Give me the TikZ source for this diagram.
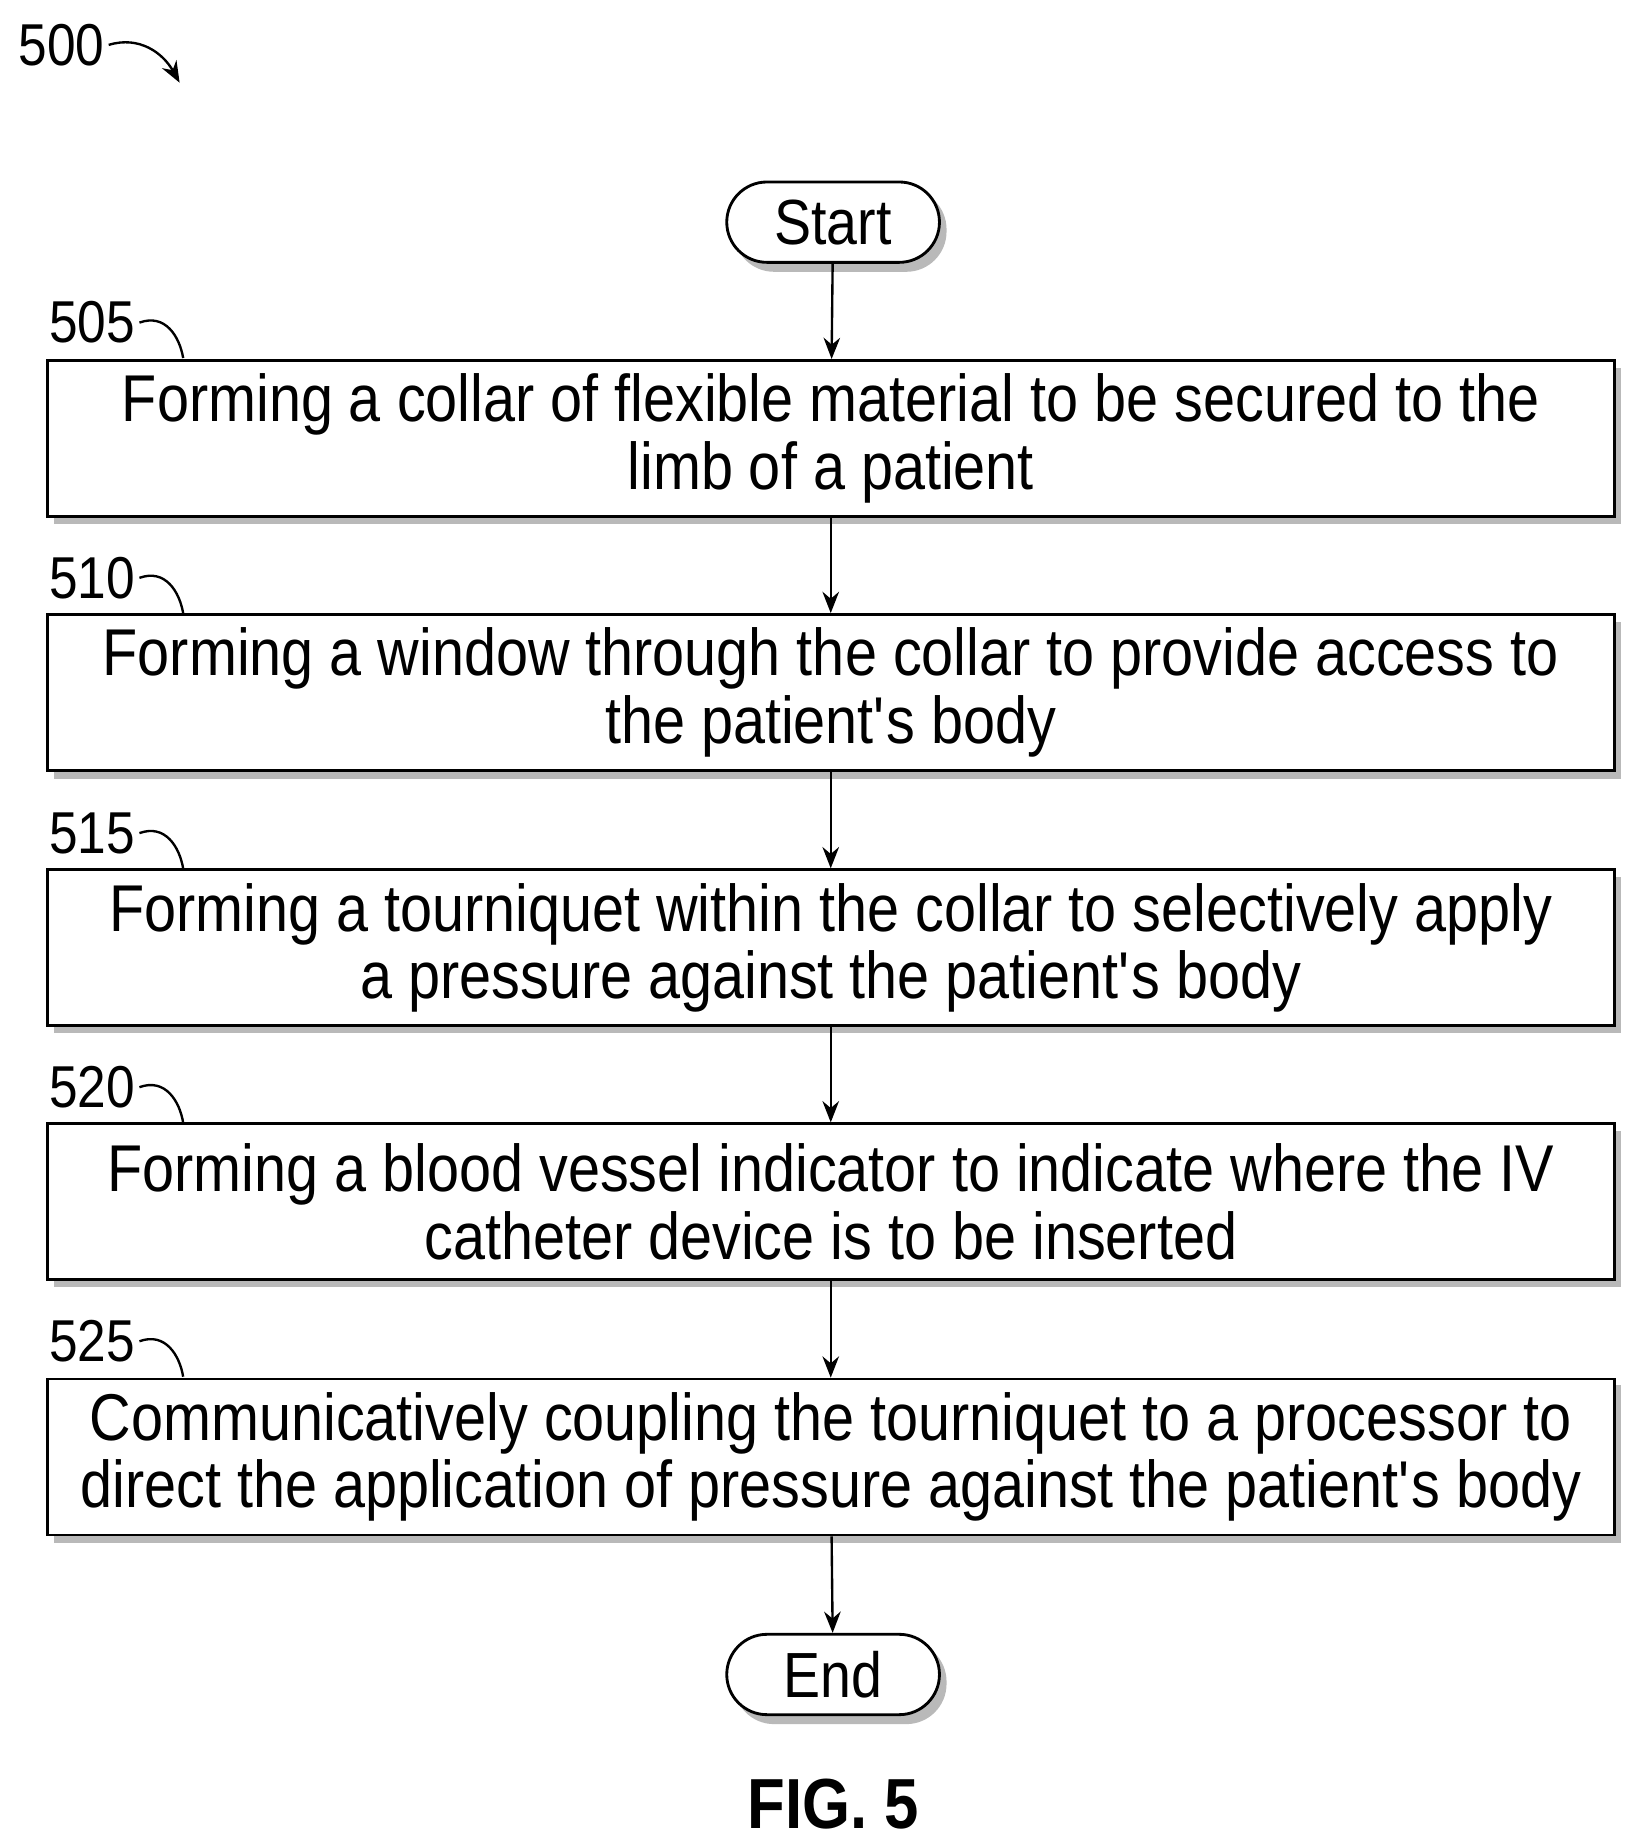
\documentclass[tikz,border=0pt]{standalone}
\usepackage{fontspec}
\setmainfont{Liberation Sans}[FakeStretch=0.87]
\usetikzlibrary{arrows.meta}
\begin{document}
\begin{tikzpicture}[x=0.5pt,y=-0.5pt,
  box/.style={draw,line width=1.2pt,fill=white,minimum width=663pt,minimum height=66pt,align=center,font=\fontsize{28}{28.5}\selectfont,inner sep=0pt},
  term/.style={draw,line width=1.2pt,fill=white,rounded corners=17pt,minimum width=90pt,minimum height=34pt,font=\fontsize{27}{28}\selectfont,inner sep=0pt},
  lab/.style={font=\fontsize{25}{26}\selectfont},
  arr/.style={line width=1pt,-{Stealth[length=9pt,width=7pt]}},
  shad/.style={fill=gray!55}]
\useasboundingbox (0,0) rectangle (1385,1563);
\node[lab] (t500) at (52,38) {500};
\coordinate (t500e) at (152,70);
\draw[arr] (92,38) .. controls (118,30) and (138,45) .. (t500e);
% shadows
\foreach \ya/\yb in {305/437,520/653,736/868,951/1083,1166/1300}{
  \fill[shad] (46,\ya+6) rectangle (1372,\yb+6);}
\fill[shad,rounded corners=17pt] (621,160) rectangle (801,230);
\fill[shad,rounded corners=17pt] (621,1389) rectangle (801,1459);
\node[term] (start) at (705,188) {Start};
\node[box] (b505) at (703,371) {Forming a collar of flexible material to be secured to the\\limb of a patient};
\node[box] (b510) at (703,586) {Forming a window through the collar to provide access to\\the patient\textquotesingle s body};
\node[box] (b515) at (703,802) {Forming a tourniquet within the collar to selectively apply\\a pressure against the patient\textquotesingle s body};
\node[box] (b520) at (703,1017) {Forming a blood vessel indicator to indicate where the IV\\catheter device is to be inserted};
\node[box] (b525) at (703,1233) {Communicatively coupling the tourniquet to a processor to\\direct the application of pressure against the patient\textquotesingle s body};
\node[term] (end) at (705,1417) {End};
\foreach \n/\y in {505/273,510/489,515/705,520/920,525/1135}{
  \node[lab] (l\n) at (78,\y) {\n};
  \draw[line width=1pt] (118,\y) .. controls (140,\y-8) and (152,\y+12) .. (155,\y+30);}
\draw[arr] (start) -- (b505);
\draw[arr] (b505) -- (b510);
\draw[arr] (b510) -- (b515);
\draw[arr] (b515) -- (b520);
\draw[arr] (b520) -- (b525);
\draw[arr] (b525) -- (end);
\node[font=\bfseries\fontsize{30}{32}\selectfont] (fig) at (705,1527) {FIG. 5};
\end{tikzpicture}
\end{document}
